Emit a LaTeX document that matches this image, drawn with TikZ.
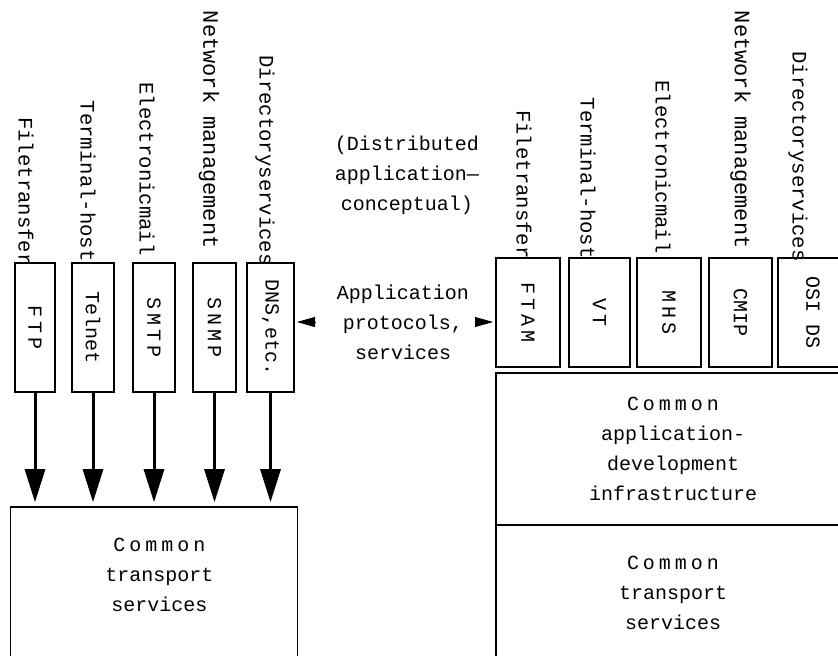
\documentclass[tikz,border=0pt]{standalone}
\usepackage{fontspec}
\setmonofont{Liberation Mono}
\usetikzlibrary{arrows.meta,positioning}

\newcommand{\spread}[1]{{\addfontfeature{LetterSpace=20}#1}}

\begin{document}
\begin{tikzpicture}[x=0.5pt,y=-0.5pt,
        font=\ttfamily\fontsize{10}{15}\selectfont,
        proto/.style={draw,line width=1pt,inner sep=0pt,minimum height=64.5pt},
        osiproto/.style={draw,line width=1pt,inner sep=0pt,minimum height=54.5pt},
        layer/.style={draw,line width=0.8pt,inner sep=0pt,align=center},
        tag/.style={rotate=-90,anchor=east,inner sep=0pt,font=\ttfamily\fontsize{10.3}{12}\selectfont},
        txt/.style={align=center,inner sep=0pt},
        down/.style={-{Triangle[length=16.5pt,width=10pt]},line width=1.5pt,shorten >=2pt},
        side/.style={-{Triangle[length=9pt,width=5pt]},shorten >=1pt}]

        \useasboundingbox (0,0) rectangle (838,655);
        \clip (0,0) rectangle (838,655);

        % Internet side
        \node[proto,minimum width=20pt] (ftp) at (35,327.5)
            {\rotatebox{-90}{\spread{FTP}}};

        \node[proto,minimum width=21pt] (telnet) [right of=ftp,node distance=29pt]
            {\rotatebox{-90}{Telnet}};

        \node[proto,minimum width=21pt] (smtp) [right of=telnet,node distance=30.5pt]
            {\rotatebox{-90}{\spread{SMTP}}};

        \node[proto,minimum width=21.5pt] (snmp) [right of=smtp,node distance=30.25pt]
            {\rotatebox{-90}{\spread{SNMP}}};

        \node[proto,minimum width=23.5pt] (dns) [right of=snmp,node distance=28pt]
            {\rotatebox{-90}{DNS,etc.}};

        \node[layer,minimum width=143.5pt,minimum height=86.5pt] (transL) [below of=smtp,node distance=133pt]
            {};

        \node[txt] (transLtext) at ([xshift=2.75pt,yshift=-34.5pt]transL.north)
            {\spread{Common}\\transport\\services};

        \node[tag] (ftpTag) at ([xshift=-4.5pt,yshift=-2pt]ftp.north)
            {Filetransfer};

        \node[tag] (telnetTag) at ([xshift=-2.5pt]telnet.north)
            {Terminal-host};

        \node[tag] (smtpTag) at ([xshift=-3.5pt,yshift=3pt]smtp.north)
            {Electronicmail};

        \node[tag,font=\ttfamily\fontsize{11}{12}\selectfont] (snmpTag) at ([xshift=-2.75pt,yshift=6.5pt]snmp.north)
            {Network management};

        \node[tag] (dnsTag) at ([xshift=-2.75pt,yshift=-2pt]dns.north)
            {Directoryservices};

        % middle
        \node[txt] (app) [right of=dns,node distance=66.25pt,yshift=2.75pt]
            {Application\\protocols,\\services};

        \node[txt] (dist) [above of=app,node distance=73.5pt,xshift=2pt]
            {(Distributed\\application—\\conceptual)};

        % OSI side
        \node[osiproto,minimum width=32pt] (ftam) at (528,312.5)
            {\rotatebox{-90}{\spread{FTAM}}};

        \node[osiproto,minimum width=30.5pt] (vt) [right of=ftam,node distance=35.75pt]
            {\rotatebox{-90}{\spread{VT}}};

        \node[osiproto,minimum width=32pt] (mhs) [right of=vt,node distance=34.75pt]
            {\rotatebox{-90}{\spread{MHS}}};

        \node[osiproto,minimum width=31.5pt] (cmip) [right of=mhs,node distance=35.75pt]
            {\rotatebox{-90}{CMIP}};

        \node[osiproto,minimum width=35pt] (osids) [right of=cmip,node distance=36.25pt]
            {\rotatebox{-90}{OSI DS}};

        \node[layer,minimum width=177pt,minimum height=76pt] (appInfra) [below of=mhs,node distance=68.25pt,xshift=2pt]
            {\spread{Common}\\application-\\development\\infrastructure};

        \node[layer,minimum width=177pt,minimum height=67.5pt] (transR) [below of=appInfra,node distance=71.75pt]
            {\spread{Common}\\transport\\services};

        \node[tag] (ftamTag) at ([xshift=-2pt,yshift=-1pt]ftam.north)
            {Filetransfer};

        \node[tag] (vtTag) at ([xshift=-5.75pt,yshift=-1pt]vt.north)
            {Terminal-host};

        \node[tag] (mhsTag) at ([xshift=-3pt,yshift=1.5pt]mhs.north)
            {Electronicmail};

        \node[tag,font=\ttfamily\fontsize{11}{12}\selectfont] (cmipTag) at ([yshift=4pt]cmip.north)
            {Network management};

        \node[tag] (osidsTag) at ([xshift=-7.5pt,yshift=-2.5pt]osids.north)
            {Directoryservices};

        \path[down]
        (ftp)    edge (ftp |- transL.north)
        (telnet) edge (telnet |- transL.north)
        (smtp)   edge (smtp |- transL.north)
        (snmp)   edge (snmp |- transL.north)
        (dns)    edge (dns |- transL.north)
        ;

        \path[side]
        (app.west) edge[shorten <=11pt] (app.west -| dns.east)
        (app.east) edge[shorten <=3pt]  (app.east -| ftam.west)
        ;
\end{tikzpicture}
\end{document}
